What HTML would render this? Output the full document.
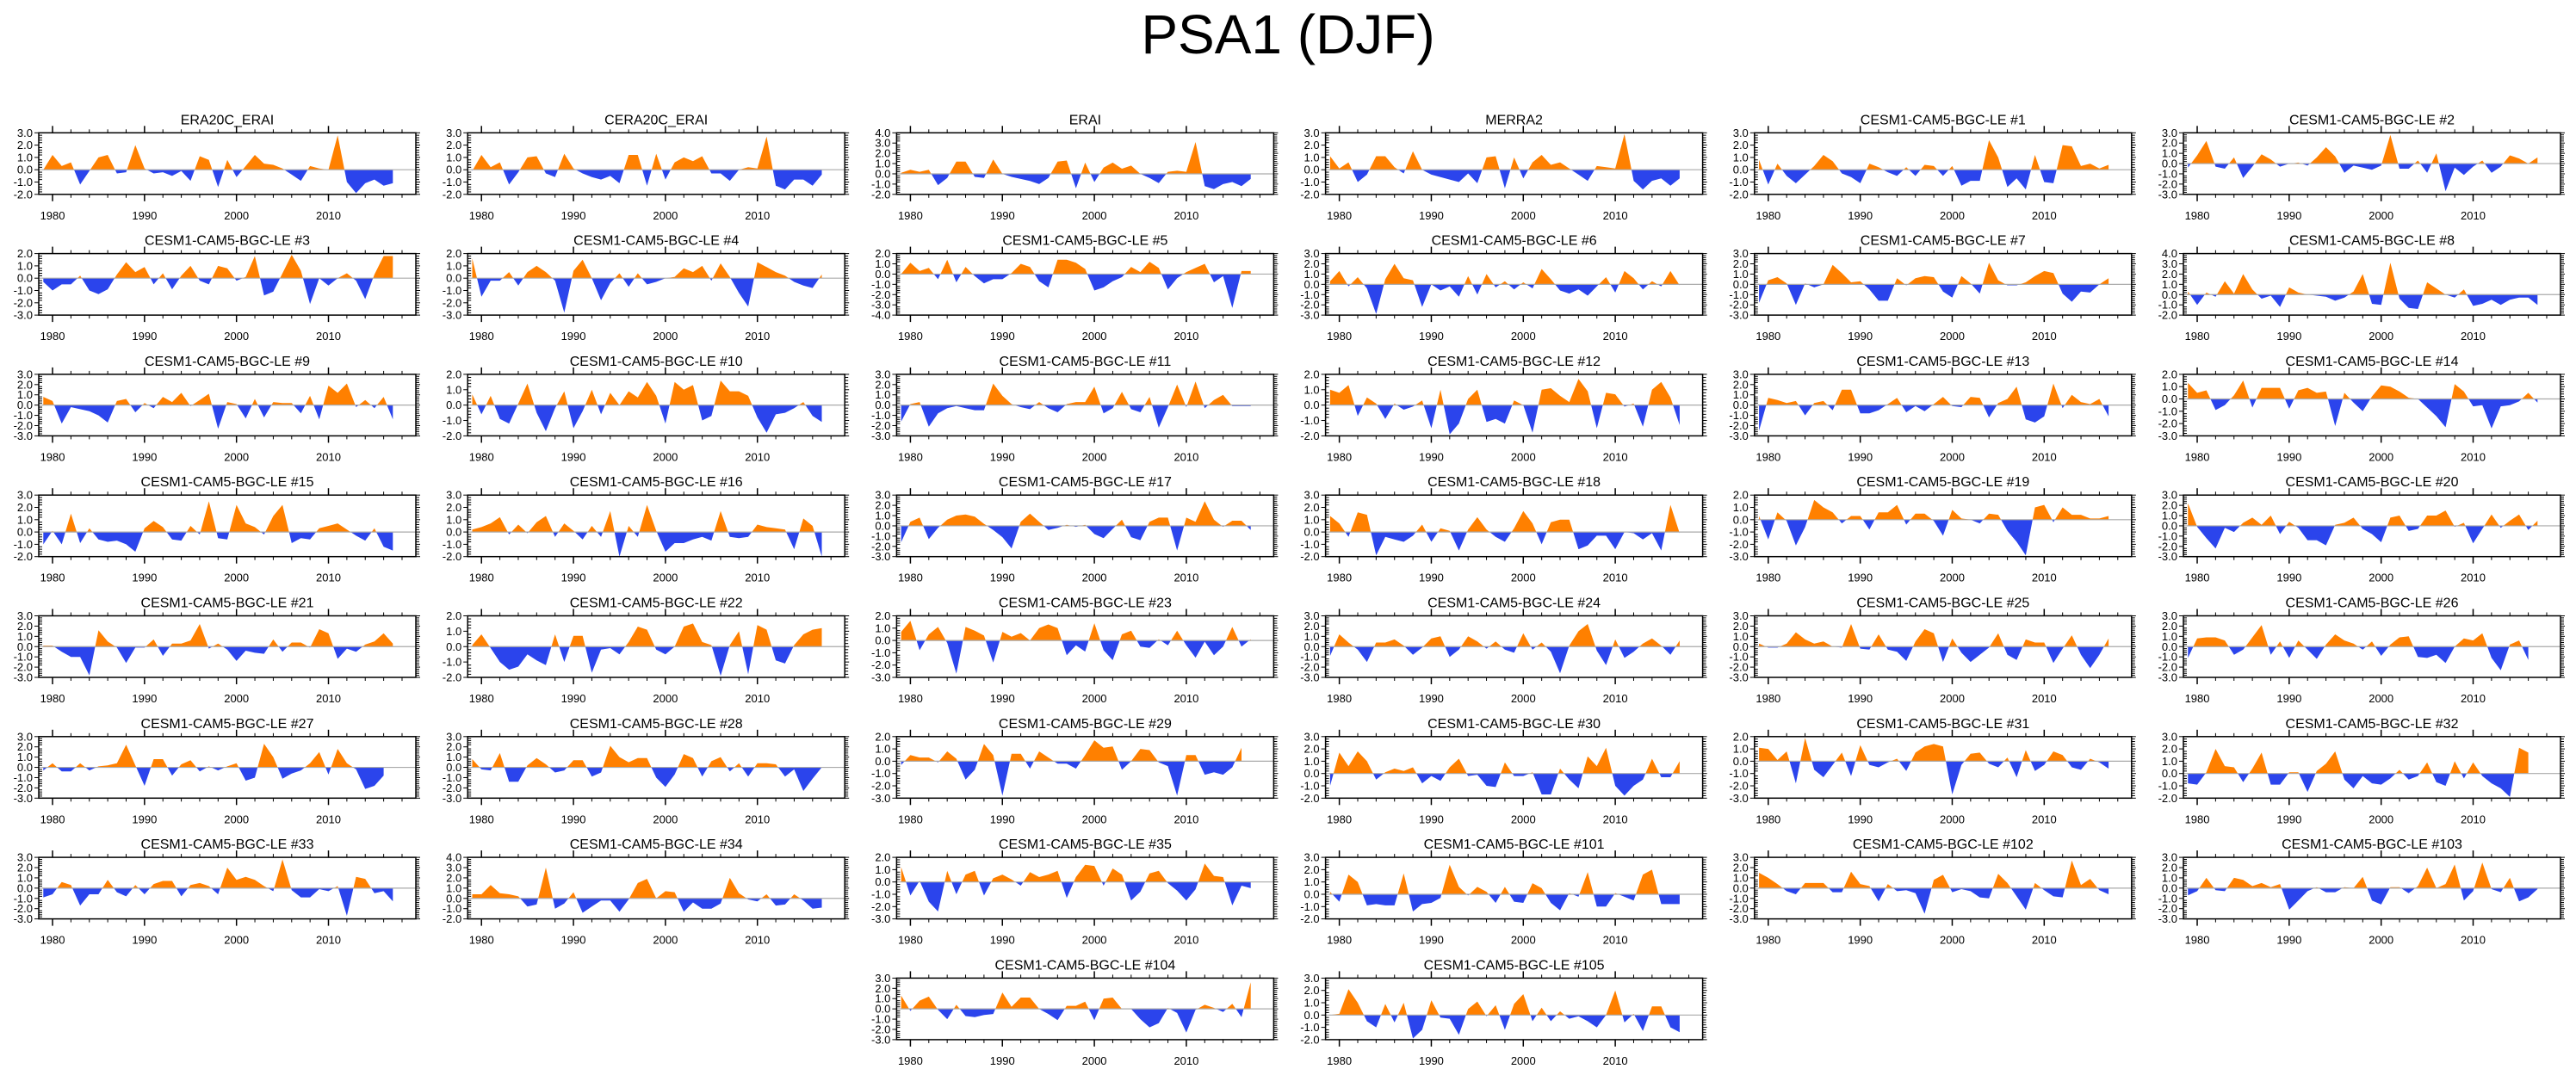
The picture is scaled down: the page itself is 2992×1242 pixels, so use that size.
<!DOCTYPE html>
<html><head><meta charset="utf-8"><style>
html,body{margin:0;padding:0;background:#fff;}
svg{display:block;font-family:"Liberation Sans",Arial,sans-serif;}
</style></head><body>
<svg id="chart" width="2992" height="1242" viewBox="0 0 2992 1242" xmlns="http://www.w3.org/2000/svg">
<text x="1496" y="62" font-size="64" text-anchor="middle" fill="#000">PSA1 (DJF)</text>
</svg>
<script>
const titles = ["ERA20C_ERAI","CERA20C_ERAI","ERAI","MERRA2","CESM1-CAM5-BGC-LE #1","CESM1-CAM5-BGC-LE #2",
"CESM1-CAM5-BGC-LE #3","CESM1-CAM5-BGC-LE #4","CESM1-CAM5-BGC-LE #5","CESM1-CAM5-BGC-LE #6","CESM1-CAM5-BGC-LE #7","CESM1-CAM5-BGC-LE #8",
"CESM1-CAM5-BGC-LE #9","CESM1-CAM5-BGC-LE #10","CESM1-CAM5-BGC-LE #11","CESM1-CAM5-BGC-LE #12","CESM1-CAM5-BGC-LE #13","CESM1-CAM5-BGC-LE #14",
"CESM1-CAM5-BGC-LE #15","CESM1-CAM5-BGC-LE #16","CESM1-CAM5-BGC-LE #17","CESM1-CAM5-BGC-LE #18","CESM1-CAM5-BGC-LE #19","CESM1-CAM5-BGC-LE #20",
"CESM1-CAM5-BGC-LE #21","CESM1-CAM5-BGC-LE #22","CESM1-CAM5-BGC-LE #23","CESM1-CAM5-BGC-LE #24","CESM1-CAM5-BGC-LE #25","CESM1-CAM5-BGC-LE #26",
"CESM1-CAM5-BGC-LE #27","CESM1-CAM5-BGC-LE #28","CESM1-CAM5-BGC-LE #29","CESM1-CAM5-BGC-LE #30","CESM1-CAM5-BGC-LE #31","CESM1-CAM5-BGC-LE #32",
"CESM1-CAM5-BGC-LE #33","CESM1-CAM5-BGC-LE #34","CESM1-CAM5-BGC-LE #35","CESM1-CAM5-BGC-LE #101","CESM1-CAM5-BGC-LE #102","CESM1-CAM5-BGC-LE #103",
"CESM1-CAM5-BGC-LE #104","CESM1-CAM5-BGC-LE #105"];
const yMax = [3,3,4,3,3,3, 2,2,2,3,3,4, 3,2,3,2,3,2, 3,3,3,3,2,3, 3,2,2,3,3,3, 3,3,2,3,2,3, 3,4,2,3,3,3, 3,3];
const yMin = [-2,-2,-2,-2,-2,-3, -3,-3,-4,-3,-3,-2, -3,-2,-3,-2,-3,-3, -2,-2,-3,-2,-3,-3, -3,-2,-3,-3,-3,-3, -3,-3,-3,-2,-3,-2, -3,-2,-3,-2,-3,-3, -3,-2];
const years = [1980,1990,2000,2010];
const startYear = 1979;
const s00=[0,1.2,0.3,0.6,-1.2,-0.1,1.0,1.2,-0.3,-0.2,2.0,0.1,-0.3,-0.2,-0.5,-0.1,-0.9,1.1,0.8,-1.4,0.8,-0.6,0.3,1.2,0.5,0.4,0.1,-0.4,-0.9,0.3,0.1,0.0,2.8,-1.0,-1.9,-1.1,-0.8,-1.3,-1.1];
const s01=[-0.1,1.2,0.2,0.6,-1.2,-0.2,1.0,1.1,-0.3,-0.6,1.3,0.1,-0.3,-0.6,-0.8,-0.5,-1.1,1.2,1.2,-1.3,1.3,-0.8,0.6,1.0,0.7,1.1,-0.3,-0.3,-0.9,0.0,0.2,0.1,2.7,-1.3,-1.6,-0.8,-0.8,-1.3,-0.4];
const s02=[0.1,0.4,0.2,0.4,-1.1,-0.4,1.2,1.2,-0.3,-0.4,1.4,0.0,-0.3,-0.5,-0.7,-1.0,-0.4,1.2,1.3,-1.4,1.1,-0.8,0.6,1.1,0.5,0.8,0.0,-0.4,-0.9,0.2,0.3,0.2,3.1,-1.2,-1.5,-1.0,-0.8,-1.2,-0.5];
const s03=[1.1,0.1,0.6,-1.0,-0.4,1.1,1.1,0.2,-0.3,1.5,0.0,-0.4,-0.6,-0.8,-1.0,-0.3,-1.1,1.0,1.1,-1.5,1.0,-0.7,0.6,1.2,0.4,0.6,0.1,-0.4,-0.9,0.3,0.2,0.1,2.9,-0.9,-1.6,-0.9,-0.7,-1.3,-0.7];
const s04=[0.8,-1.2,0.5,-0.5,-1.1,-0.4,0.3,1.2,0.7,-0.3,-0.6,-1.1,0.5,0.2,-0.2,-0.5,0.2,-0.5,0.4,0.3,-0.5,0.3,-1.3,-0.9,-0.9,2.4,1.0,-1.4,-0.7,-1.6,1.2,-1.0,-1.1,2.0,1.9,0.3,0.5,0.1,0.4];
const s05=[-0.4,0.8,2.2,-0.3,-0.5,0.6,-1.4,-0.3,0.9,0.4,-0.3,0.0,0.1,-0.2,0.6,1.6,0.7,-0.9,-0.2,-0.4,-0.6,-0.2,2.8,-0.5,-0.5,0.3,-0.9,1.0,-2.7,-0.4,-1.1,-0.3,0.3,-0.9,-0.3,0.8,0.5,0.0,0.6];
const s06=[-0.3,-1.0,-0.5,-0.5,0.2,-1.0,-1.3,-0.9,0.3,1.3,0.5,0.9,-0.5,0.4,-0.9,0.2,1.0,-0.2,-0.5,1.0,0.8,-0.2,0.1,1.8,-1.4,-1.1,0.4,1.9,0.6,-2.1,0.0,-0.6,0.0,0.4,-0.2,-1.7,0.3,1.8,1.8];
const s07=[1.6,-1.5,-0.2,-0.2,0.5,-0.6,0.5,1.0,0.5,-0.2,-2.8,0.6,1.5,0.0,-1.8,-0.4,0.4,-0.7,0.4,-0.5,-0.3,0.0,0.1,0.8,0.5,1.0,-0.2,1.2,0.1,-1.2,-2.3,1.3,0.9,0.5,0.2,-0.3,-0.6,-0.8,0.3];
const s08=[0.0,1.1,0.3,0.6,-0.5,1.4,-0.8,0.7,-0.2,-0.9,-0.5,-0.5,0.1,1.0,0.7,-0.7,-1.3,1.4,1.4,1.1,0.5,-1.6,-1.3,-0.7,-0.3,0.7,0.2,1.2,0.6,-1.5,-0.4,0.2,0.6,1.0,-0.8,-0.2,-3.3,0.3,0.3];
const s09=[0.3,1.3,-0.2,0.7,-0.4,-2.9,0.5,2.0,0.6,0.4,-2.2,0.0,-0.6,-0.2,-1.2,0.8,-1.0,1.0,-0.3,0.3,-0.5,0.2,-0.4,1.5,0.5,-0.6,-0.9,-0.5,-1.1,-0.2,0.7,-0.8,1.3,0.6,-0.5,0.3,-0.2,1.3,-0.1];
const s10=[-1.8,0.4,0.7,0.1,-2.0,0.1,-0.3,0.0,1.9,1.1,0.2,0.3,-0.5,-1.6,-1.6,0.6,-0.1,0.6,0.8,0.7,-0.7,-1.3,0.8,0.1,-0.9,2.1,0.4,-0.1,-0.1,0.2,0.8,1.3,1.1,-0.9,-1.7,-0.7,-0.8,0.0,0.6];
const s11=[0.3,-1.0,0.2,-0.2,1.3,0.1,2.0,0.5,-0.4,-0.1,-1.2,0.7,0.2,0.0,-0.1,-0.2,-0.6,-0.3,0.3,2.0,-0.9,-1.0,3.1,-0.4,-1.3,-1.4,1.2,0.6,0.0,-0.3,0.5,-1.1,-0.9,-0.5,-1.0,-0.5,-0.3,-0.3,-1.0];
const s12=[0.8,0.4,-1.8,-0.2,-0.4,-0.6,-1.0,-1.7,0.4,0.6,-0.7,0.2,-0.3,0.8,0.3,1.2,-0.1,0.5,1.1,-2.3,0.3,0.1,-1.3,0.6,-1.2,0.3,0.2,0.2,-0.8,0.9,-1.4,1.9,1.2,2.1,-0.2,0.5,-0.3,0.8,-1.4];
const s13=[0.7,-0.6,0.6,-0.9,-1.2,0.1,1.4,-0.5,-1.7,-0.2,0.9,-1.5,-0.4,1.0,-0.6,0.8,0.0,0.9,0.5,1.5,0.6,-1.2,1.5,1.0,1.3,-1.0,-0.7,1.6,0.9,0.9,0.6,-0.8,-1.8,-0.6,-0.5,-0.2,0.2,-0.7,-1.1];
const s14=[-1.6,0.1,0.3,-2.1,-0.8,-0.3,-0.1,-0.3,-0.5,-0.5,2.1,0.9,0.1,-0.2,-0.4,0.3,-0.3,-0.7,0.1,0.3,0.3,1.8,-0.8,-0.3,1.3,-0.4,-0.7,0.8,-2.2,-0.2,2.0,-0.2,2.3,-0.3,0.5,1.0,-0.1,-0.1,-0.1];
const s15=[1.0,0.8,1.3,-0.7,0.5,0.1,-0.9,0.1,-0.3,-0.1,0.3,-1.5,1.0,-1.9,-1.2,0.4,1.0,-1.1,-0.9,-1.2,0.3,0.0,-1.8,1.0,1.1,0.6,0.2,1.7,0.9,-1.5,0.8,0.7,-0.1,0.1,-1.4,1.0,1.5,0.5,-1.3];
const s16=[-2.5,0.7,0.5,0.2,0.4,-1.0,0.2,0.4,-0.5,1.5,1.5,-0.8,-0.8,-0.5,0.1,0.7,-0.7,-0.1,-0.6,0.1,0.8,-0.1,-0.2,0.8,0.7,-1.2,0.2,0.6,1.8,-1.4,-1.7,-1.1,2.1,-0.3,1.0,0.3,0.1,0.6,-1.1];
const s17=[1.3,0.5,0.7,-0.9,-0.5,0.3,1.5,-0.7,0.9,0.9,0.9,-0.8,0.7,0.9,0.5,0.6,-2.2,0.5,-0.3,-1.0,0.2,1.1,1.0,0.6,0.1,0.0,-0.7,-1.4,-2.3,1.2,0.6,-0.6,-0.5,-2.4,-0.6,-0.5,-0.2,0.5,-0.3];
const s18=[-1.0,0.1,-1.0,1.5,-0.9,0.3,-0.6,-0.8,-0.7,-1.0,-1.6,0.3,0.9,0.4,-0.6,-0.7,0.5,-0.2,2.5,-0.5,-0.6,2.2,0.7,0.4,-0.2,1.3,2.2,-0.9,-0.5,-0.6,0.3,0.5,0.7,0.2,-0.3,-0.7,0.3,-1.2,-1.5];
const s19=[0.2,0.4,0.7,1.2,-0.2,0.6,-0.1,0.8,1.3,-0.4,0.7,0.1,-0.6,0.5,-0.4,1.7,-2.0,0.5,-0.4,2.2,0.1,-1.6,-0.9,-0.9,-0.6,-0.4,-0.7,1.7,-0.4,-0.5,-0.4,0.6,0.4,0.3,0.2,-1.4,1.1,0.5,-2.0];
const s20=[-1.6,0.4,0.8,-1.3,-0.2,0.6,1.0,1.1,0.9,0.2,-0.4,-1.1,-2.2,0.4,1.2,0.4,-0.4,-0.2,0.1,-0.1,0.1,-0.8,-1.2,-0.3,0.6,-1.1,-1.4,0.4,0.8,0.8,-2.4,0.8,0.4,2.4,0.6,-0.1,0.5,0.5,-0.4];
const s21=[1.3,0.7,-0.4,1.6,1.4,-1.9,-0.4,-0.6,-0.8,-0.3,0.6,-0.8,0.3,0.1,-1.5,0.2,1.2,0.2,-0.4,-0.8,0.3,1.7,0.7,-1.0,0.8,1.0,1.0,-1.4,-1.1,-0.3,-0.3,-1.4,0.0,-0.1,-0.6,-0.1,-1.5,2.2,-0.1];
const s22=[0.3,-1.6,0.6,-0.1,-2.1,-0.6,1.6,1.0,0.6,-0.3,0.3,0.3,-0.8,0.6,0.6,1.2,-0.4,0.5,0.5,-0.1,-1.3,0.8,0.1,0.0,-0.3,0.5,0.4,-0.9,-1.8,-2.9,1.0,1.2,-0.2,1.0,0.4,0.4,0.1,0.1,0.3];
const s23=[2.2,-0.1,-1.2,-2.2,-0.2,-0.6,0.3,0.8,0.1,1.0,-0.8,0.4,-0.2,-1.4,-1.4,-1.9,0.1,0.3,0.8,-0.3,-0.8,-1.6,0.8,1.0,-0.5,-0.3,1.0,1.0,1.5,-0.1,0.3,-1.7,-0.3,1.1,-0.2,0.5,1.1,-0.4,0.5];
const s24=[0.1,0.1,-0.5,-1.0,-1.0,-2.8,1.6,0.5,-0.1,-1.6,-0.1,-0.1,0.7,-0.9,0.3,0.3,0.6,2.2,-0.2,0.3,-0.3,-1.4,-0.4,-0.6,-0.7,0.7,-0.5,0.4,0.4,-0.1,1.7,1.3,-1.2,-0.2,-0.5,0.2,0.5,1.3,0.3];
const s25=[0.1,0.8,-0.1,-1.0,-1.5,-1.3,-0.5,-0.9,-1.2,0.8,-1.0,0.7,0.7,-1.7,-0.2,-0.1,-0.5,0.3,1.3,1.1,-0.2,-0.5,0.0,1.3,1.5,0.3,0.1,-1.9,0.1,1.0,-1.8,1.4,1.1,-0.9,-1.1,0.1,0.8,1.1,1.2];
const s26=[0.7,1.6,-0.8,0.5,1.1,-0.2,-2.7,1.1,0.8,0.4,-1.8,0.7,0.3,0.6,0.0,1.0,1.3,1.0,-1.2,-0.4,-0.9,1.4,-0.8,-1.6,0.5,0.8,-0.5,-0.6,0.1,-0.4,0.8,-0.4,-1.4,-0.1,-1.2,-0.5,1.1,-0.5,0.1];
const s27=[-0.9,1.2,0.4,-0.3,-1.5,0.4,0.4,0.7,0.1,-0.8,-0.1,0.8,1.0,-1.0,-0.3,1.0,0.5,-0.2,0.5,-0.3,-0.6,1.3,-0.3,0.4,-0.5,-2.6,0.1,1.5,2.2,-0.4,-1.8,0.7,-1.1,-0.5,0.3,0.8,0.1,-0.8,0.6];
const s28=[0.3,-0.1,-0.1,0.3,1.4,0.7,0.3,0.5,0.0,-0.1,2.2,-0.2,-0.3,1.2,-0.3,-0.5,-1.4,0.5,1.7,1.3,-1.5,0.8,-0.6,-1.5,-0.8,-0.1,1.3,-0.8,-1.3,0.7,0.4,0.4,-1.6,-0.2,1.1,-0.8,-2.1,-0.8,0.8];
const s29=[-1.1,0.8,0.9,0.9,0.6,-0.8,-0.3,0.9,2.1,-0.8,0.5,-1.1,0.6,-0.3,-1.2,0.2,1.2,0.6,0.3,-0.3,0.5,-0.9,0.2,0.9,1.0,-1.0,-1.1,-0.8,-1.6,0.0,0.8,0.6,1.3,-1.1,-2.3,0.2,0.6,-1.3];
const s30=[-0.3,0.4,-0.4,-0.4,0.4,-0.3,0.1,0.2,0.4,2.2,0.2,-1.8,0.8,0.8,-0.8,0.3,0.7,-0.4,0.1,-0.3,0.1,0.4,-1.3,-1.0,2.3,1.0,-1.1,-0.6,-0.3,0.4,1.5,-0.7,1.8,0.4,-0.2,-2.1,-1.8,-0.8];
const s31=[0.8,-0.2,-0.3,1.4,-1.4,-1.4,0.2,0.9,0.3,-0.5,-0.3,0.7,0.7,-0.9,-0.5,2.1,1.0,0.5,0.9,0.9,-1.0,-1.9,-0.7,1.3,0.9,-0.9,0.6,1.0,-0.4,0.4,-0.9,0.4,0.4,0.3,-0.9,-0.2,-2.3,-1.1,0.0];
const s32=[-0.3,0.5,0.3,0.3,-0.1,0.8,0.2,-1.5,-0.7,1.4,0.5,-2.8,0.6,0.6,-0.6,0.8,0.3,-0.2,-0.2,-0.6,0.5,1.7,1.1,1.2,-0.7,0.0,1.0,0.9,-0.1,-0.4,-2.8,0.5,0.5,-1.1,-0.9,-1.1,-0.5,1.1];
const s33=[-1.0,1.7,0.6,1.8,1.0,-0.5,0.1,0.4,0.2,0.5,-0.8,-0.2,-0.6,0.5,1.2,-0.2,-0.1,-1.0,-1.1,0.9,-0.2,-0.2,0.1,-1.7,-1.7,0.4,-0.5,-1.2,1.4,0.6,2.1,-1.0,-1.8,-1.0,-0.5,1.2,-0.3,-0.3,1.0];
const s34=[1.1,1.0,0.1,0.8,-1.8,1.9,-0.7,-1.3,-0.3,0.7,-1.2,1.3,-0.3,-0.5,-0.1,0.2,-0.8,0.7,1.2,1.4,1.2,-2.7,-0.3,0.6,0.7,-0.2,-0.5,0.3,-1.3,0.9,-0.8,-0.3,0.8,0.5,-0.5,-0.7,0.2,-0.1,-0.6];
const s35=[-0.8,-0.9,0.1,2.0,0.6,0.5,-0.7,0.4,1.7,-0.9,-0.9,0.1,0.1,-1.5,0.2,0.8,1.8,-0.5,-1.2,-0.2,-0.8,-0.9,-0.4,0.3,-0.5,-0.2,0.9,-0.7,-1.0,1.0,-0.4,0.9,-0.2,-0.8,-1.2,-1.9,2.1,1.7];
const s36=[-0.9,-0.6,0.6,0.3,-1.7,-0.6,-0.6,0.8,-0.4,-0.8,0.3,-0.6,0.4,0.7,0.7,-0.8,0.3,0.5,0.2,-0.6,2.0,0.8,1.1,0.8,0.2,-0.3,2.8,-0.2,-0.9,-0.9,-0.1,-0.3,0.2,-2.7,1.1,0.9,-0.5,-0.3,-1.3];
const s37=[0.4,0.4,1.3,0.5,0.4,0.2,-0.8,-0.6,3.0,-1.0,-0.5,0.6,-1.4,-0.8,-0.2,-0.2,-1.3,-0.1,1.5,1.9,0.0,0.7,0.6,-1.3,-0.4,-1.0,-1.0,-0.5,2.0,0.5,-0.1,-0.3,0.4,-0.7,-0.6,0.4,-0.2,-1.0,-0.9];
const s38=[1.2,-1.1,0.1,-1.6,-2.4,0.9,-1.0,0.6,0.9,-1.1,0.3,0.6,0.2,-0.3,0.8,0.4,0.6,0.9,-1.3,0.4,1.4,1.3,-0.3,1.1,0.6,-1.5,-0.8,0.7,0.9,-0.1,-0.7,-1.5,-0.6,1.5,0.5,0.4,-1.9,-0.3,-0.5];
const s39=[0.2,-0.6,1.6,1.0,-0.9,-0.8,-0.9,-0.9,1.7,-1.4,-0.8,-0.7,-0.3,2.4,0.6,-0.1,0.6,0.2,-0.7,0.6,-0.6,-0.7,0.9,0.5,-0.7,-1.3,0.1,-0.2,1.8,-1.0,-1.0,0.1,-0.2,-0.5,1.6,2.0,-0.8,-0.8,-0.8];
const s40=[1.5,1.0,0.4,-0.3,-0.6,0.5,0.5,0.5,-0.4,-0.4,1.6,0.4,0.2,-1.3,0.4,-0.3,-0.2,-0.5,-2.5,0.8,1.3,-0.4,-0.1,-0.3,-0.9,-1.0,1.4,0.5,-0.8,-2.1,0.5,-0.2,-0.8,-0.9,2.7,0.3,0.9,-0.2,-0.6];
const s41=[-0.7,-0.3,1.0,-0.2,-0.3,1.0,0.8,0.2,0.5,0.1,0.4,-2.1,-1.2,-0.3,0.1,-0.4,-0.4,0.1,0.0,1.1,-1.2,-1.6,0.1,0.1,-0.5,0.2,2.0,0.0,0.4,2.3,-1.2,-0.3,2.5,-0.1,-0.4,1.0,-1.3,-0.9,-0.1];
const s42=[1.3,-0.2,0.8,1.2,-0.1,-1.0,0.4,-0.7,-0.8,-0.6,-0.5,1.6,0.2,1.1,1.1,0.0,-0.5,-1.1,0.3,0.3,0.7,-1.1,1.0,1.1,0.0,0.0,-1.0,-1.8,-1.4,0.1,-0.4,-2.3,-0.1,0.4,0.1,-0.3,0.5,-0.8,2.6];
const s43=[0.0,0.1,2.1,1.0,-0.5,-1.0,0.9,-0.6,1.0,-1.9,-1.2,1.2,-0.2,-0.3,-1.6,0.5,1.1,-0.1,0.8,-1.2,0.9,1.7,-0.5,0.6,-0.5,0.3,-0.3,-0.1,-0.5,-1.0,0.0,2.0,-0.6,0.1,-1.3,0.7,0.7,-1.0,-1.4];
const series=[s00,s01,s02,s03,s04,s05,s06,s07,s08,s09,s10,s11,s12,s13,s14,s15,s16,s17,s18,s19,s20,s21,s22,s23,s24,s25,s26,s27,s28,s29,s30,s31,s32,s33,s34,s35,s36,s37,s38,s39,s40,s41,s42,s43];

const NS="http://www.w3.org/2000/svg";
const svg=document.getElementById('chart');
function mk(tag,attrs,parent){const e=document.createElementNS(NS,tag);for(const k in attrs)e.setAttribute(k,attrs[k]);(parent||svg).appendChild(e);return e;}
const X0=45,PX=498.2,Y0=154.3,PY=140.3,W=438,H=71.5;
for(let p=0;p<series.length;p++){
  let col=p%6,row=Math.floor(p/6);
  if(p>=42){row=7;col=p-40;}
  const L=X0+col*PX,T=Y0+row*PY;
  const lo=yMin[p],hi=yMax[p];
  const xs=yr=>L+(yr-1978.5)/41*W;
  const ys=v=>T+(hi-v)/(hi-lo)*H;
  const g=mk('g',{});
  
  
  const t=mk('text',{x:L+W/2,y:T-10,'font-size':16,'text-anchor':'middle',fill:'#000'},g);
  t.textContent=titles[p];
  
  
  const vals=series[p].slice(0,39);
  const z=ys(0);
  let d='M'+xs(startYear).toFixed(1)+','+z.toFixed(1);
  vals.forEach((v,i)=>{d+=' L'+xs(startYear+i).toFixed(1)+','+ys(v).toFixed(1);});
  d+=' L'+xs(startYear+vals.length-1).toFixed(1)+','+z.toFixed(1)+' Z';
  const cpA=mk('clipPath',{id:'ca'+p},g);mk('rect',{x:L,y:T,width:W,height:z-T},cpA);
  const cpB=mk('clipPath',{id:'cb'+p},g);mk('rect',{x:L,y:z,width:W,height:T+H-z},cpB);
  const pa=mk('path',{d:d,fill:'#ff8000','clip-path':'url(#ca'+p+')'},g);
  
  
  const pb=mk('path',{d:d,fill:'#2b44ec','clip-path':'url(#cb'+p+')'},g);
  
  
  const zl=mk('line',{x1:L,x2:L+W,y1:z,y2:z,stroke:'#aaa','stroke-width':1.2},g);
  
  
  const box=mk('rect',{x:L,y:T,width:W,height:H,fill:'none',stroke:'#000','stroke-width':1.5},g);
  
  
  for(let yr=1980;yr<=2018;yr+=2){
    const x=xs(yr);const major=(yr%10===0);const len=major?8:4;
    mk('line',{x1:x,x2:x,y1:T,y2:T-len,stroke:'#000','stroke-width':major?1.5:1},g);
    mk('line',{x1:x,x2:x,y1:T+H,y2:T+H+len,stroke:'#000','stroke-width':major?1.5:1},g);
  }
  years.forEach(yr=>{
    const tl=mk('text',{x:xs(yr),y:T+H+29,'font-size':13,'text-anchor':'middle',fill:'#000'},g);
    tl.textContent=String(yr);
    
    
  });
  for(let v=lo;v<=hi+1e-6;v+=0.2){
    const y=ys(v);const major=Math.abs(v-Math.round(v))<1e-6;
    mk('line',{x1:L,x2:L+(major?-5:4),y1:y,y2:y,stroke:'#000','stroke-width':1},g);
    mk('line',{x1:L+W,x2:L+W+(major?5:4),y1:y,y2:y,stroke:'#000','stroke-width':1},g);
  }
  for(let v=lo;v<=hi;v++){
    const yl=mk('text',{x:L-7,y:ys(v)+4.5,'font-size':13,'text-anchor':'end',fill:'#000'},g);
    yl.textContent=v.toFixed(1);
    
    
  }
}
</script>
</body></html>
